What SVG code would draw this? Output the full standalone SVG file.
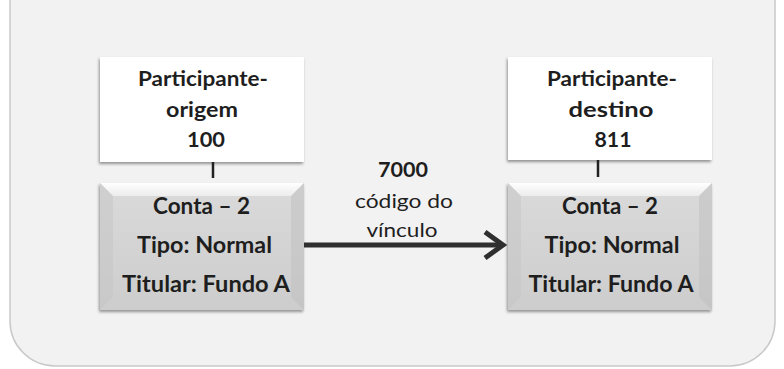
<svg xmlns="http://www.w3.org/2000/svg" width="784" height="369" viewBox="0 0 784 369">
<defs>
<linearGradient id="acc" x1="0" y1="0" x2="0" y2="1">
<stop offset="0" stop-color="#dadada"/>
<stop offset="1" stop-color="#cdcdcd"/>
</linearGradient>
<linearGradient id="bevtop" x1="0" y1="0" x2="0" y2="1">
<stop offset="0" stop-color="#ffffff"/>
<stop offset="1" stop-color="#ececec"/>
</linearGradient>
<filter id="sh" x="-10%" y="-10%" width="130%" height="130%">
<feGaussianBlur in="SourceAlpha" stdDeviation="1.5"/>
<feOffset dx="-1" dy="2" result="b"/>
<feComponentTransfer><feFuncA type="linear" slope="0.4"/></feComponentTransfer>
<feMerge><feMergeNode/><feMergeNode in="SourceGraphic"/></feMerge>
</filter>
</defs>
<style>
.bg{fill:#f2f2f2;stroke:#c9c9c9;stroke-width:1.5}
.part{fill:#ffffff}
.acc{fill:url(#acc)}
.t{font-family:Lato,"Open Sans",sans-serif;font-weight:bold;fill:#1e1e1e;text-anchor:middle}
.tp{font-size:20px}
.ta{font-size:22.5px}
.lab{font-family:Lato,"Open Sans",sans-serif;fill:#1e1e1e;text-anchor:middle;font-size:20px}
.tick{stroke:#222;stroke-width:2.5}
.conn{stroke:#2f2f2f;stroke-width:5;fill:none}
</style>
<rect x="0" y="0" width="784" height="369" fill="#ffffff"/>
<rect class="bg" x="10" y="-120" width="765" height="486" rx="45"/>

<g id="origem">
<rect class="part" x="100" y="57" width="204" height="105" filter="url(#sh)"/>
<text class="t tp" x="203" y="86" textLength="130" lengthAdjust="spacingAndGlyphs">Participante-</text>
<text class="t tp" x="202" y="117" textLength="72" lengthAdjust="spacingAndGlyphs">origem</text>
<text class="t tp" x="206" y="147" textLength="38" lengthAdjust="spacingAndGlyphs">100</text>
</g>
<g id="conta-origem">
<rect class="acc" x="100" y="183" width="204" height="127" filter="url(#sh)"/>
<polygon points="100,183 304,183 291,196 113,196" fill="url(#bevtop)"/>
<polygon points="100,183 113,196 113,297 100,310" fill="#c4c4c4" opacity="0.45"/>
<polygon points="304,183 291,196 291,297 304,310" fill="#bdbdbd" opacity="0.45"/>
<text class="t ta" x="201.5" y="214" textLength="97" lengthAdjust="spacingAndGlyphs">Conta – 2</text>
<text class="t ta" x="204.5" y="253" textLength="135" lengthAdjust="spacingAndGlyphs">Tipo: Normal</text>
<text class="t ta" x="206" y="292" textLength="168" lengthAdjust="spacingAndGlyphs">Titular: Fundo A</text>
</g>

<g id="destino">
<rect class="part" x="508" y="57" width="204" height="103" filter="url(#sh)"/>
<text class="t tp" x="612" y="86" textLength="130" lengthAdjust="spacingAndGlyphs">Participante-</text>
<text class="t tp" x="611" y="117" textLength="85" lengthAdjust="spacingAndGlyphs">destino</text>
<text class="t tp" x="613" y="147" textLength="37" lengthAdjust="spacingAndGlyphs">811</text>
</g>
<g id="conta-destino">
<rect class="acc" x="508" y="183" width="204" height="127" filter="url(#sh)"/>
<polygon points="508,183 712,183 699,196 521,196" fill="url(#bevtop)"/>
<polygon points="508,183 521,196 521,297 508,310" fill="#c4c4c4" opacity="0.45"/>
<polygon points="712,183 699,196 699,297 712,310" fill="#bdbdbd" opacity="0.45"/>
<text class="t ta" x="610" y="214" textLength="96" lengthAdjust="spacingAndGlyphs">Conta – 2</text>
<text class="t ta" x="612" y="253" textLength="135" lengthAdjust="spacingAndGlyphs">Tipo: Normal</text>
<text class="t ta" x="611" y="292" textLength="165" lengthAdjust="spacingAndGlyphs">Titular: Fundo A</text>
</g>

<g id="connectors">
<line class="tick" x1="213" y1="162" x2="213" y2="178"/>
<line class="tick" x1="598" y1="160" x2="598" y2="177"/>
<line class="conn" x1="304" y1="245" x2="503" y2="245"/>
<polyline class="conn" points="485,232 503,245 485,258" stroke-linejoin="miter"/>
</g>

<g id="link-label">
<text class="t" x="403" y="177" style="font-size:20px" textLength="50" lengthAdjust="spacingAndGlyphs">7000</text>
<text class="lab" x="404" y="208" textLength="98" lengthAdjust="spacingAndGlyphs">código do</text>
<text class="lab" x="402" y="237" textLength="71" lengthAdjust="spacingAndGlyphs">vínculo</text>
</g>
</svg>
